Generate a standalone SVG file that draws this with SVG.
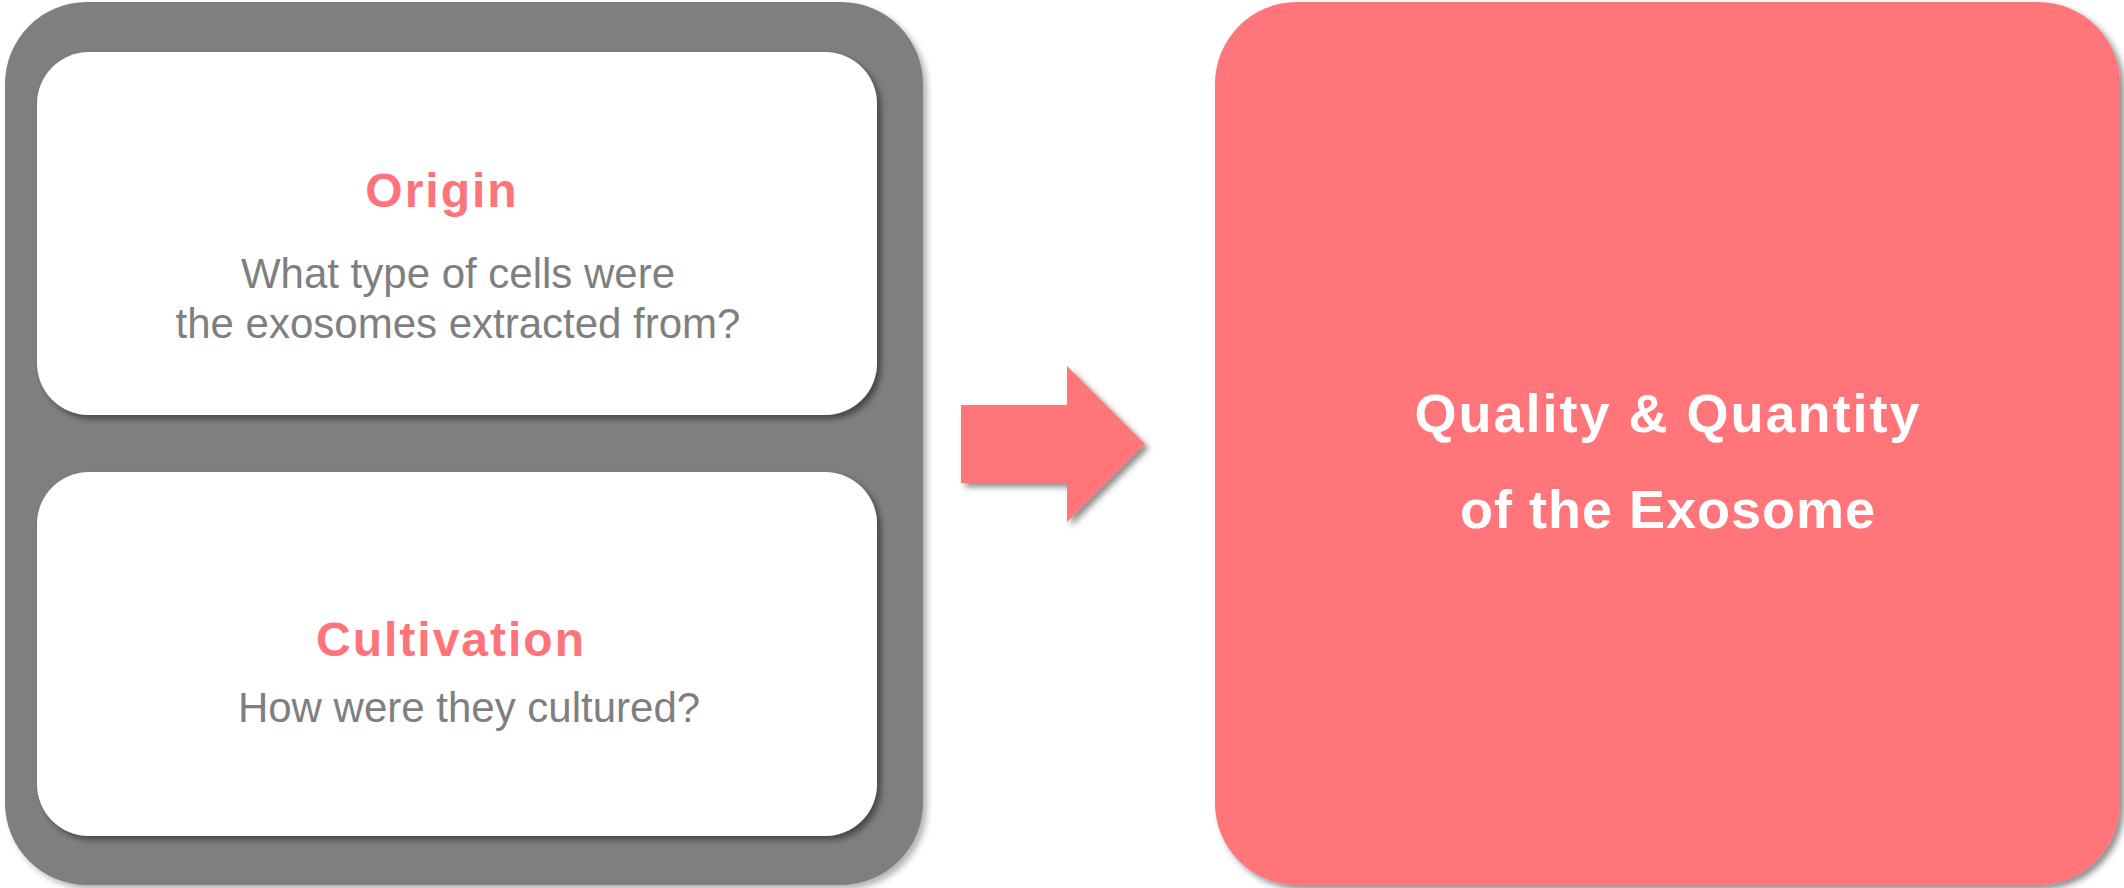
<svg xmlns="http://www.w3.org/2000/svg" width="2124" height="888" viewBox="0 0 2124 888">
  <defs>
    <filter id="shadow" x="-10%" y="-10%" width="120%" height="120%">
      <feDropShadow dx="4" dy="4" stdDeviation="3" flood-color="#000" flood-opacity="0.45"/>
    </filter>
    <filter id="shadowLight" x="-10%" y="-10%" width="120%" height="120%">
      <feDropShadow dx="4" dy="4" stdDeviation="3" flood-color="#000" flood-opacity="0.3"/>
    </filter>
  </defs>
  <style>
    .panel { fill: #7f7f7f; }
    .card { fill: #ffffff; }
    .red { fill: #ff747a; }
    .title { font-family: "Liberation Sans", Arial, sans-serif; font-weight: bold; font-size: 48px; fill: #ff747a; text-anchor: middle; letter-spacing: 2px; }
    .body { font-family: "Liberation Sans", Arial, sans-serif; font-size: 42px; fill: #7f7f7f; text-anchor: middle; }
    .big { font-family: "Liberation Sans", Arial, sans-serif; font-weight: bold; font-size: 54px; fill: #ffffff; text-anchor: middle; letter-spacing: 2px; }
  </style>
  <rect width="2124" height="888" fill="#ffffff"/>
  <g id="panel">
    <rect class="panel" x="5" y="2" width="918" height="883" rx="82" ry="82" filter="url(#shadowLight)"/>
  </g>
  <g id="origin">
    <rect class="card" x="37" y="52" width="840" height="363" rx="52" ry="52" filter="url(#shadow)"/>
    <text class="title" x="442" y="207">Origin</text>
    <text class="body" x="458" y="288">What type of cells were</text>
    <text class="body" x="458" y="338">the exosomes extracted from?</text>
  </g>
  <g id="cultivation">
    <rect class="card" x="37" y="472" width="840" height="364" rx="52" ry="52" filter="url(#shadow)"/>
    <text class="title" x="451" y="656">Cultivation</text>
    <text class="body" x="469" y="722">How were they cultured?</text>
  </g>
  <g id="connectors">
    <polygon class="red" points="961,405 1067,405 1067,366 1145,444 1067,522 1067,483 961,483" filter="url(#shadow)"/>
  </g>
  <g id="result">
    <rect class="red" x="1215" y="2" width="905" height="883" rx="82" ry="82" filter="url(#shadow)"/>
    <text class="big" x="1668" y="432">Quality &amp; Quantity</text>
    <text class="big" x="1668" y="528" style="letter-spacing:1px">of the Exosome</text>
  </g>
</svg>
